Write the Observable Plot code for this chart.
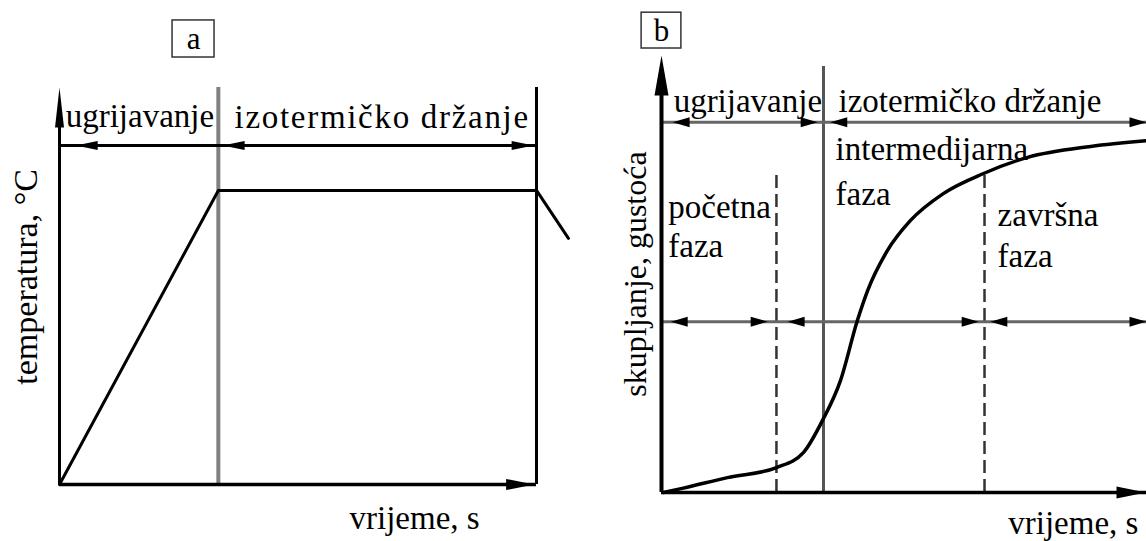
<!DOCTYPE html>
<html><head><meta charset="utf-8">
<script src="https://cdn.jsdelivr.net/npm/d3@7"></script>
<script src="https://cdn.jsdelivr.net/npm/@observablehq/plot@0.6"></script>
<style>
html,body{margin:0;padding:0;background:#fff;}
#fig{display:flex;width:1146px;height:541px;overflow:hidden;background:#fff;}
#fig svg{display:block;flex:none;}
</style></head><body><div id="fig"></div>
<script>
// ---------- Panel a: temperature vs time (schematic units) ----------
const aTempT = [0, 3.33, 10, 10.67];
const aTempV = [0, 100, 100, 83.7];
const aPhaseBounds = [3.33, 10];          // end of heating, end of isothermal holding
const aSpanLevel = [115.3];               // level of the double-arrow line
const aTop = 135;                         // top of axis arrow
const aAxisHeadY = [{t: 0, v: 135, angle: 0}];
const aAxisHeadX = [{t: 9.95, v: 0, angle: 90}];
const aSpanHeads = [
  {t: 0.34, v: 115.3, angle: -90},
  {t: 3.42, v: 115.3, angle: -90},
  {t: 9.94, v: 115.3, angle: 90}
];
const aLabels = [
  {text: "ugrijavanje", t: 0.13, v: 121.4},
  {text: "izotermičko držanje", t: 3.67, v: 121.2}
];
const aYLabel = [{text: "temperatura, °C", t: -0.71, v: 70.6}];
const aXLabel = [{text: "vrijeme, s", t: 6.08, v: -15}];
const aBox = [{text: "a", t1: 2.37, t2: 3.25, v1: 145.2, v2: 157.8}];

// ---------- Panel b: shrinkage / density vs time ----------
const bCurveT = [0.04, 0.45, 1.36, 2.37, 2.93, 3.32, 3.69, 4.04, 4.25, 4.66, 5.13, 5.81, 6.64, 7.55, 8.85, 10];
const bCurveV = [0, 1.0, 3.4, 5.7, 9.2, 16.5, 25.6, 39.4, 46.2, 55.4, 62.2, 68.4, 73.0, 76.7, 79.2, 80.5];
const bSolid = [{t: 3.34, top: 97.5}];
const bDashed = [{t: 2.37, top: 73.2}, {t: 6.66, top: 73.7}];
const bSpanLevels = [84.7, 39.1];
const bAxisHeadY = [{t: 0, v: 100, angle: 0}];
const bAxisHeadX = [{t: 10, v: 0, angle: 90}];
const bSpanHeads = [
  {t: 0.23, v: 84.7, angle: -90}, {t: 3.22, v: 84.7, angle: 90},
  {t: 3.48, v: 84.7, angle: -90}, {t: 10, v: 84.7, angle: 90},
  {t: 0.19, v: 39.1, angle: -90}, {t: 2.19, v: 39.1, angle: 90},
  {t: 2.6, v: 39.1, angle: -90}, {t: 6.54, v: 39.1, angle: 90},
  {t: 6.78, v: 39.1, angle: -90}, {t: 10, v: 39.1, angle: 90}
];
const bLabels = [
  {text: "ugrijavanje", t: 0.25, v: 87},
  {text: "izotermičko držanje", t: 3.65, v: 87},
  {text: "intermedijarna", t: 3.59, v: 76.2},
  {text: "faza", t: 3.59, v: 65.7},
  {text: "početna", t: 0.14, v: 62.9},
  {text: "faza", t: 0.14, v: 53.8},
  {text: "završna", t: 6.93, v: 60.9},
  {text: "faza", t: 6.93, v: 51.5}
];
const bYLabel = [{text: "skupljanje, gustoća", t: -0.54, v: 50}];
const bXLabel = [{text: "vrijeme, s", t: 7.15, v: -9.4}];
const bBox = [{text: "b", t1: -0.41, t2: 0.41, v1: 101.6, v2: 109.8}];

// ---------- helpers ----------
const FONT = "'Liberation Serif', 'Times New Roman', serif";
function head(len, hw) {
  return {draw(ctx) { ctx.moveTo(0, 0); ctx.lineTo(hw, len); ctx.lineTo(-hw, len); ctx.closePath(); }};
}
const heads = (data, len, hw) =>
  Plot.dot(data, {x: "t", y: "v", rotate: "angle", r: 1, symbol: head(len, hw), fill: "black", stroke: "none"});
const labels = (data, size) =>
  Plot.text(data, {x: "t", y: "v", text: "text", textAnchor: "start", lineAnchor: "bottom",
    fontFamily: FONT, fontSize: size, fill: "black"});
const boxed = (data) => [
  Plot.rect(data, {x1: "t1", x2: "t2", y1: "v1", y2: "v2", fill: "white", stroke: "#333", strokeWidth: 1.5}),
  Plot.text(data, {x: d => (d.t1 + d.t2) / 2, y: d => (d.v1 + d.v2) / 2, text: "text",
    fontFamily: FONT, fontSize: 31, fill: "black", lineAnchor: "middle"})
];

const aTemp = aTempT.map((t, i) => ({t, v: aTempV[i]}));
const bCurve = bCurveT.map((t, i) => ({t, v: bCurveV[i]}));

const plotA = Plot.plot({
  width: 600, height: 541,
  marginLeft: 59, marginRight: 64, marginTop: 87, marginBottom: 57,
  x: {domain: [0, 10], axis: null},
  y: {domain: [0, 135], axis: null},
  style: {background: "white", overflow: "visible"},
  marks: [
    Plot.ruleX([aPhaseBounds[0]], {y1: 0, y2: aTop, stroke: "#808080", strokeWidth: 4}),
    Plot.ruleX([aPhaseBounds[1]], {y1: 0, y2: aTop, stroke: "black", strokeWidth: 3}),
    Plot.ruleY(aSpanLevel, {x1: 0, x2: aPhaseBounds[1], stroke: "black", strokeWidth: 3}),
    Plot.ruleX([0], {y1: 0, y2: aTop - 5, stroke: "black", strokeWidth: 3}),
    Plot.ruleY([0], {x1: 0, x2: aPhaseBounds[1], stroke: "black", strokeWidth: 3.5}),
    Plot.line(aTemp, {x: "t", y: "v", stroke: "black", strokeWidth: 3}),
    heads(aAxisHeadY, 40, 4.5),
    heads(aAxisHeadX, 28, 5.5),
    heads(aSpanHeads, 22, 4.5),
    labels(aLabels, 33),
    Plot.text(aYLabel, {x: "t", y: "v", text: "text", rotate: -90, textAnchor: "middle", lineAnchor: "middle",
      fontFamily: FONT, fontSize: 34, fill: "black"}),
    labels(aXLabel, 33),
    ...boxed(aBox)
  ]
});

const plotB = Plot.plot({
  width: 546, height: 541,
  marginLeft: 61, marginRight: 0, marginTop: 55, marginBottom: 49,
  x: {domain: [0, 10], axis: null},
  y: {domain: [0, 100], axis: null},
  style: {background: "white", overflow: "visible"},
  marks: [
    Plot.ruleX(bDashed, {x: "t", y1: 0, y2: "top", stroke: "#333", strokeWidth: 2.5, strokeDasharray: "13,6"}),
    Plot.ruleX(bSolid, {x: "t", y1: 0, y2: "top", stroke: "#555", strokeWidth: 3}),
    Plot.ruleY(bSpanLevels, {x1: 0, x2: 10, stroke: "#666", strokeWidth: 3}),
    Plot.ruleX([0], {y1: 0, y2: 95, stroke: "black", strokeWidth: 4}),
    Plot.ruleY([0], {x1: 0, x2: 10, stroke: "black", strokeWidth: 3.5}),
    Plot.line(bCurve, {x: "t", y: "v", stroke: "black", strokeWidth: 3.5, curve: "monotone-x"}),
    heads(bAxisHeadY, 40, 7),
    heads(bAxisHeadX, 30, 6),
    heads(bSpanHeads, 17, 5),
    labels(bLabels, 33),
    Plot.text(bYLabel, {x: "t", y: "v", text: "text", rotate: -90, textAnchor: "middle", lineAnchor: "middle",
      fontFamily: FONT, fontSize: 32, fill: "black"}),
    labels(bXLabel, 33),
    ...boxed(bBox)
  ]
});

// panel a's second heading is set with wider letter spacing in the original
d3.select(plotA).selectAll("text")
  .filter(function() { return this.textContent === "izotermičko držanje"; })
  .style("letter-spacing", "1.7px");

const fig = document.getElementById("fig");
fig.appendChild(plotA);
fig.appendChild(plotB);
</script>
</body></html>
